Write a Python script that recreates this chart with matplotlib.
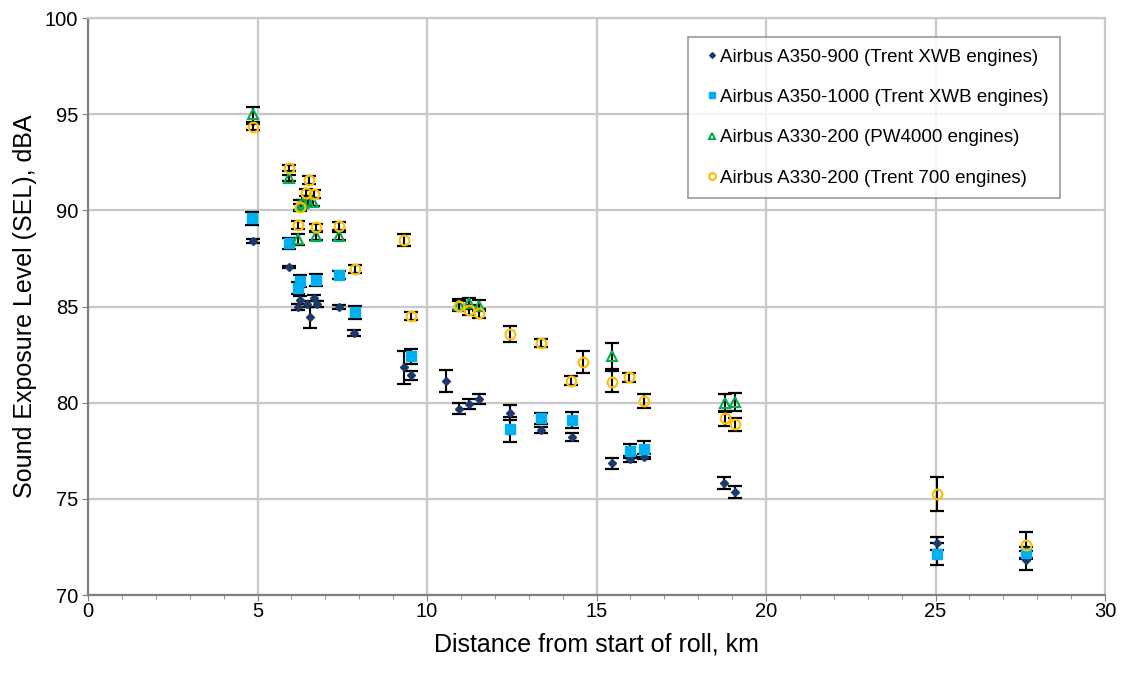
import matplotlib
matplotlib.use("Agg")
import matplotlib.pyplot as plt
from matplotlib.ticker import MultipleLocator

plt.rcParams['font.family'] = ['Liberation Sans', 'DejaVu Sans']

# A350-900 (Trent XWB)
a359_x = [4.87, 5.93, 6.20, 6.25, 6.45, 6.54, 6.66, 6.74, 7.39, 7.84, 9.32, 9.54, 10.56,
          10.93, 11.23, 11.52, 12.46, 13.35, 14.27, 15.45, 15.98, 16.39, 18.77, 19.07, 25.03, 27.66]
a359_y = [88.40, 87.08, 84.99, 85.34, 85.13, 84.45, 85.44, 85.13, 84.99, 83.62, 81.84, 81.42, 81.14,
          79.69, 79.93, 80.21, 79.48, 78.58, 78.23, 76.85, 77.06, 77.20, 75.82, 75.36, 72.69, 71.80]
a359_e = [0.10, 0.05, 0.15, 0.20, 0.15, 0.55, 0.15, 0.15, 0.10, 0.15, 0.87, 0.23, 0.57,
          0.28, 0.25, 0.25, 0.40, 0.15, 0.20, 0.30, 0.15, 0.15, 0.30, 0.30, 0.35, 0.50]

# A350-1000 (Trent XWB)
a35k_x = [4.84, 5.93, 6.20, 6.26, 6.73, 7.39, 7.88, 9.54, 12.46, 13.35, 14.27, 15.98, 16.39, 25.03, 27.66]
a35k_y = [89.59, 88.29, 85.97, 86.34, 86.38, 86.63, 84.70, 82.43, 78.62, 79.19, 79.10, 77.49, 77.59, 72.13, 72.20]
a35k_e = [0.35, 0.30, 0.30, 0.30, 0.30, 0.20, 0.35, 0.39, 0.65, 0.30, 0.40, 0.35, 0.40, 0.55, 0.30]

# A330-200 (PW4000)
pw_x = [4.87, 5.93, 6.20, 6.25, 6.35, 6.49, 6.64, 6.73, 7.39, 10.93, 11.24, 11.52, 15.45, 18.79, 19.07]
pw_y = [95.00, 91.67, 88.50, 90.28, 90.37, 90.45, 90.45, 88.67, 88.67, 85.10, 85.17, 85.05, 82.45, 80.00, 80.05]
pw_e = [0.40, 0.15, 0.30, 0.25, 0.20, 0.20, 0.20, 0.20, 0.20, 0.30, 0.30, 0.30, 0.68, 0.47, 0.47]

# A330-200 (Trent 700)
t7_x = [4.87, 5.93, 6.20, 6.25, 6.43, 6.53, 6.66, 6.73, 7.39, 7.88, 9.33, 9.54, 10.93, 11.24, 11.52,
        12.46, 13.35, 14.26, 14.61, 15.45, 15.97, 16.39, 18.79, 19.07, 25.03, 27.66]
t7_y = [94.34, 92.19, 89.24, 90.16, 90.93, 91.58, 90.84, 89.12, 89.19, 86.95, 88.46, 84.52, 85.03, 84.82, 84.65,
        83.57, 83.12, 81.15, 82.13, 81.09, 81.32, 80.10, 79.19, 78.88, 75.25, 72.58]
t7_e = [0.15, 0.15, 0.20, 0.20, 0.20, 0.20, 0.20, 0.20, 0.20, 0.20, 0.30, 0.20, 0.25, 0.25, 0.25,
        0.40, 0.20, 0.25, 0.57, 0.55, 0.22, 0.35, 0.40, 0.35, 0.90, 0.70]

labels = ["Airbus A350-900 (Trent XWB engines)",
          "Airbus A350-1000 (Trent XWB engines)",
          "Airbus A330-200 (PW4000 engines)",
          "Airbus A330-200 (Trent 700 engines)"]

fig = plt.figure(figsize=(11.23, 6.75), dpi=100)
ax = fig.add_axes([0.0784, 0.1185, 0.9056, 0.8545])

eb_kw = dict(fmt='none', ecolor='black', elinewidth=1.5, capsize=5, capthick=1.6, zorder=3)

ax.errorbar(a359_x, a359_y, yerr=a359_e, **eb_kw)
ax.errorbar(a35k_x, a35k_y, yerr=a35k_e, **eb_kw)
ax.errorbar(pw_x, pw_y, yerr=pw_e, **eb_kw)
ax.errorbar(t7_x, t7_y, yerr=t7_e, **eb_kw)

ax.plot(a359_x, a359_y, linestyle='none', marker='D', markersize=4.2, color='#1B3A6B',
        markeredgecolor='#1B3A6B', zorder=4, label=labels[0])
ax.plot(a35k_x, a35k_y, linestyle='none', marker='s', markersize=7, color='#00B0F0',
        markeredgecolor='#00B0F0', zorder=4, label=labels[1])
ax.plot(pw_x, pw_y, linestyle='none', marker='^', markersize=6.5, markerfacecolor='none',
        markeredgecolor='#00B050', markeredgewidth=1.5, zorder=5, label=labels[2])
ax.plot(t7_x, t7_y, linestyle='none', marker='o', markersize=7, markerfacecolor='none',
        markeredgecolor='#FFC000', markeredgewidth=1.6, zorder=6, label=labels[3])

ax.set_xlim(0, 30)
ax.set_ylim(70, 100)
ax.xaxis.set_major_locator(MultipleLocator(5))
ax.xaxis.set_minor_locator(MultipleLocator(1))
ax.yaxis.set_major_locator(MultipleLocator(5))
ax.grid(True, which='major', color='#C8C8C8', linewidth=1.6, zorder=0)
ax.set_axisbelow(True)
for s in ax.spines.values():
    s.set_color('#C8C8C8')
    s.set_linewidth(1.6)
ax.spines['bottom'].set_color('#808080')
ax.spines['left'].set_color('#808080')
ax.tick_params(axis='both', which='major', labelsize=14.5, length=4, color='#808080', direction='out')
ax.tick_params(axis='y', which='major', pad=3)
ax.tick_params(axis='x', which='major', pad=1)
ax.tick_params(axis='x', which='minor', length=3, color='#808080', direction='out')

ax.set_xlabel("Distance from start of roll, km", fontsize=18, labelpad=8)
ax.set_ylabel("Sound Exposure Level (SEL), dBA", fontsize=18, labelpad=6)

leg = ax.legend(loc='upper right', bbox_to_anchor=(0.956, 0.967), fontsize=13.5, frameon=True,
                fancybox=False, edgecolor='#808080', labelspacing=1.24, handlelength=1.4,
                handletextpad=-0.25, borderpad=0.6, borderaxespad=0.0, markerscale=0.7)
leg.get_frame().set_linewidth(1.2)

fig.savefig("out.png", dpi=100)
